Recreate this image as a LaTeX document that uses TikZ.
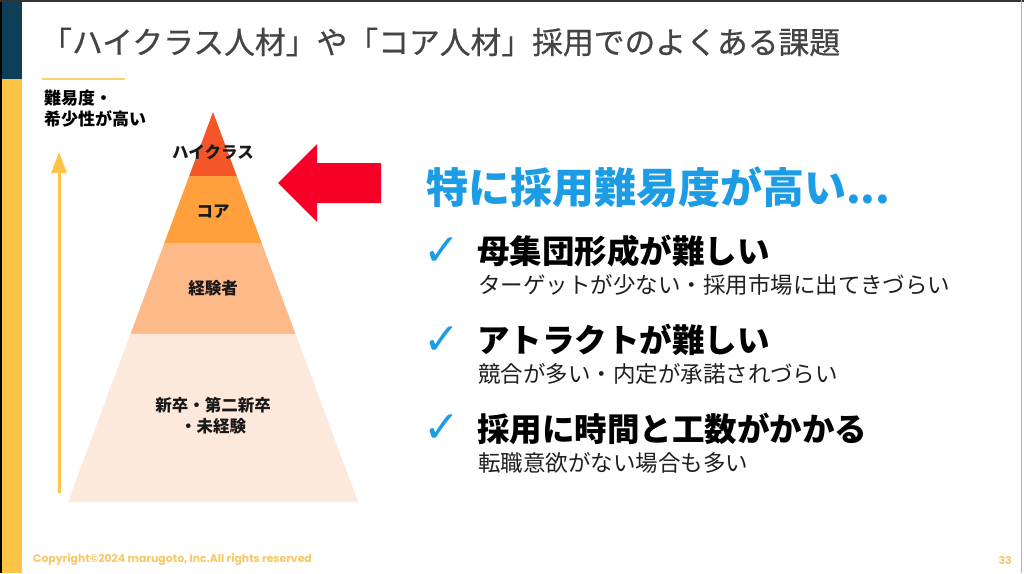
\documentclass[tikz,border=0pt]{standalone}
\usepackage{fontspec}
\setmainfont{Noto Sans CJK JP}
\newfontfamily\dejavu{DejaVu Sans}
\newfontfamily\pop{Poppins}
\usetikzlibrary{calc,arrows.meta}
\definecolor{teal}{HTML}{0E3F56}
\definecolor{barY}{HTML}{FFC445}
\definecolor{layA}{HTML}{F4562A}
\definecolor{layB}{HTML}{FFA03C}
\definecolor{layC}{HTML}{FDBA88}
\definecolor{layD}{HTML}{FDE8DC}
\definecolor{redA}{HTML}{F70028}
\definecolor{blueA}{HTML}{1B9CE5}
\definecolor{titleG}{HTML}{444444}
\definecolor{copyY}{HTML}{F8C766}
\tikzset{
  pyrlabel/.style={font=\bfseries\fontsize{16.5}{21}\selectfont, text=black!90, align=center, inner sep=0pt},
  checkmk/.style={font=\dejavu\fontsize{44}{48}\selectfont, text=blueA, inner sep=0pt},
  itemhead/.style={font=\bfseries\fontsize{32.5}{38}\selectfont, text=black, anchor=west, inner sep=0pt, text height=30.4pt, text depth=2.1pt},
  itemsub/.style={font=\fontsize{22.5}{27}\selectfont, text=black!88, anchor=west, inner sep=0pt, text height=21.06pt, text depth=1.44pt},
}
\begin{document}
\begin{tikzpicture}[x=1pt,y=-1pt]
\useasboundingbox (0,0) rectangle (1024,573);
\fill[white] (0,0) rectangle (1024,573);
% side bar
\fill[barY] (0,0) rectangle (22,573);
\fill[teal] (0,0) rectangle (22,79);
\fill[black] (0,0) rectangle (1.5,573);
\fill[black!80] (0,0) rectangle (1024,1.5);
\fill[black!30] (1020.5,0) rectangle (1021.5,573);
% title
\node[anchor=west, inner sep=0pt, font=\addfontfeature{FakeBold=0.6}\fontsize{30.8}{36}\selectfont, text=titleG] (title) at (41,42) {「ハイクラス人材」や「コア人材」採用でのよくある課題};
% short rule
\coordinate (ruleL) at (42,79);
\coordinate (ruleR) at (125,79);
\draw[barY!80, line width=1.2pt] (ruleL) -- (ruleR);
% axis label
\node[anchor=north west, inner sep=0pt, align=left, font=\bfseries\fontsize{17}{21}\selectfont] (axlab) at (44,90) {難易度・\\希少性が高い};
% yellow arrow
\coordinate (arrB) at (59,493);
\coordinate (arrT) at (59,152);
\draw[barY, line width=3pt, -{Triangle[length=21pt, width=15pt]}] (arrB) -- (arrT);
% pyramid
\coordinate (apex) at (213,112);
\coordinate (bl) at (68,502);
\coordinate (br) at (358,502);
\coordinate (l1) at ($(apex)!0.1641!(bl)$);
\coordinate (r1) at ($(apex)!0.1641!(br)$);
\coordinate (l2) at ($(apex)!0.3359!(bl)$);
\coordinate (r2) at ($(apex)!0.3359!(br)$);
\coordinate (l3) at ($(apex)!0.5692!(bl)$);
\coordinate (r3) at ($(apex)!0.5692!(br)$);
\fill[layA] (apex) -- (r1) -- (l1) -- cycle;
\fill[layB] (l1) -- (r1) -- (r2) -- (l2) -- cycle;
\fill[layC] (l2) -- (r2) -- (r3) -- (l3) -- cycle;
\fill[layD] (l3) -- (r3) -- (br) -- (bl) -- cycle;
\node[pyrlabel] (p1) at (213,152) {ハイクラス};
\node[pyrlabel] (p2) at (213,212) {コア};
\node[pyrlabel] (p3) at (213,288) {経験者};
\node[pyrlabel] (p4) at (213,416) {新卒・第二新卒\\・未経験};
% red arrow
\fill[redA] (278,183) -- (317,144) -- (317,163) -- (381,163) -- (381,203) -- (317,203) -- (317,222) -- cycle;
% headline
\node[anchor=west, inner sep=0pt, font=\bfseries\fontsize{42}{47}\selectfont, text=blueA] (head) at (426,187) {特に採用難易度が高い...};
% items
\node[checkmk] (c1) at (442,252) {✓};
\node[itemhead] (h1) at (477,249) {母集団形成が難しい};
\node[itemsub] (s1) at (478,284) {ターゲットが少ない・採用市場に出てきづらい};
\node[checkmk] (c2) at (442,341) {✓};
\node[itemhead] (h2) at (477,338) {アトラクトが難しい};
\node[itemsub] (s2) at (478,373) {競合が多い・内定が承諾されづらい};
\node[checkmk] (c3) at (442,429) {✓};
\node[itemhead] (h3) at (477,427) {採用に時間と工数がかかる};
\node[itemsub] (s3) at (478,462) {転職意欲がない場合も多い};
% footer
\node[anchor=west, inner sep=0pt, font=\pop\bfseries\fontsize{10.9}{12}\selectfont, text=copyY] (copy) at (33,560) {Copyright©2024 marugoto, Inc.All rights reserved};
\node[anchor=east, inner sep=0pt, font=\pop\bfseries\fontsize{10.9}{12}\selectfont, text=copyY] (pnum) at (1012,560) {33};
\end{tikzpicture}
\end{document}
